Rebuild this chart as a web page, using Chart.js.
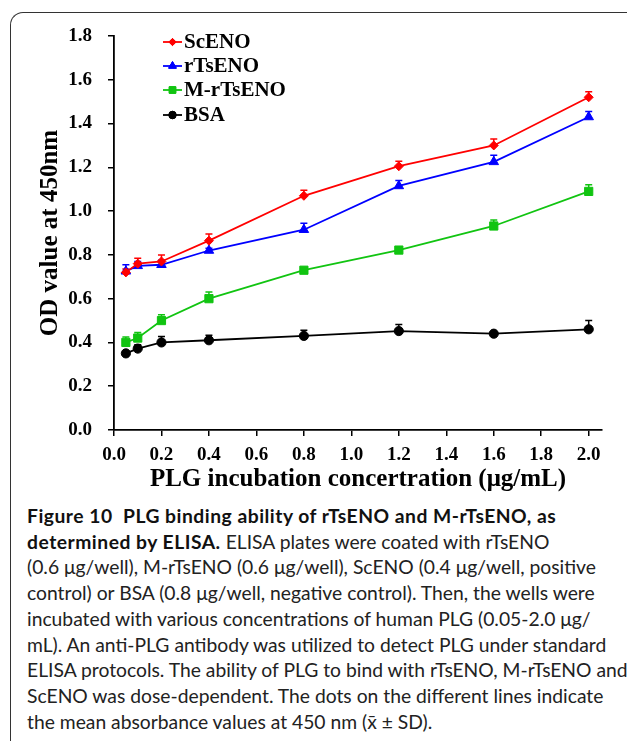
<!DOCTYPE html>
<html>
<head>
<meta charset="utf-8">
<script src="https://cdn.jsdelivr.net/npm/chart.js@4/dist/chart.umd.min.js"></script>
<style>
  html, body { margin: 0; padding: 0; background: #fff; }
  body { width: 627px; height: 741px; position: relative; overflow: hidden; }
  #frame { position: absolute; left: 10px; top: 12px; width: 640px; height: 760px;
           border-left: 1.4px solid #333; border-top: 1.4px solid #333; border-top-left-radius: 13px; }
  #chart { position: absolute; left: 0; top: 0; }
  #caption { position: absolute; left: 27px; top: 503px; width: 600px;
             font-family: Lato, "Open Sans", sans-serif; font-size: 19.3px; line-height: 25.7px;
             color: #222; white-space: nowrap; }
  #caption b { color: #111; letter-spacing: 0.5px; }
</style>
</head>
<body>
<div id="frame"></div>
<canvas id="chart" width="627" height="500"></canvas>
<div id="caption">
<b>Figure 10&nbsp;&nbsp;PLG binding ability of rTsENO and M-rTsENO, as</b><br>
<b>determined by ELISA.</b> ELISA plates were coated with rTsENO<br>
(0.6 μg/well), M-rTsENO (0.6 μg/well), ScENO (0.4 μg/well, positive<br>
control) or BSA (0.8 μg/well, negative control). Then, the wells were<br>
incubated with various concentrations of human PLG (0.05-2.0 μg/<br>
mL). An anti-PLG antibody was utilized to detect PLG under standard<br>
ELISA protocols. The ability of PLG to bind with rTsENO, M-rTsENO and<br>
ScENO was dose-dependent. The dots on the different lines indicate<br>
the mean absorbance values at 450 nm (x̄ ± SD).
</div>
<script>
// ---- data ----
const concentrations = [0.05, 0.1, 0.2, 0.4, 0.8, 1.2, 1.6, 2.0];
const seriesNames = ["ScENO", "rTsENO", "M-rTsENO", "BSA"];
const scENO      = [0.72, 0.76, 0.77, 0.865, 1.07, 1.205, 1.30, 1.52];
const scENOsd    = [0.015, 0.025, 0.03, 0.03, 0.025, 0.023, 0.03, 0.025];
const rTsENO     = [0.725, 0.75, 0.755, 0.82, 0.915, 1.115, 1.225, 1.43];
const rTsENOsd   = [0.03, 0.02, 0.02, 0.01, 0.03, 0.025, 0.03, 0.025];
const mrTsENO    = [0.40, 0.42, 0.50, 0.60, 0.73, 0.822, 0.932, 1.09];
const mrTsENOsd  = [0.025, 0.025, 0.027, 0.03, 0.01, 0.015, 0.027, 0.03];
const bsa        = [0.35, 0.372, 0.40, 0.41, 0.43, 0.452, 0.44, 0.46];
const bsaSD      = [0.01, 0.018, 0.027, 0.023, 0.026, 0.03, 0.01, 0.04];
const yTickLabels = ["0.0","0.2","0.4","0.6","0.8","1.0","1.2","1.4","1.6","1.8"];
const xTickLabels = ["0.0","0.2","0.4","0.6","0.8","1.0","1.2","1.4","1.6","1.8","2.0"];
const yTitle = "OD value at 450nm";
const xTitle = "PLG incubation concertration (μg/mL)";

const serif = "'Liberation Serif', 'Times New Roman', serif";

function pts(vals) { return concentrations.map((x, i) => ({ x: x, y: vals[i] })); }

const styles = [
  { color: '#ff0000', pointStyle: 'rectRot', radius: 4.5 },
  { color: '#0000ff', pointStyle: 'triangle', radius: 5.5 },
  { color: '#11c411', pointStyle: 'rect', radius: 5.8 },
  { color: '#000000', pointStyle: 'circle', radius: 4.6 }
];
const allVals = [scENO, rTsENO, mrTsENO, bsa];
const allSD = [scENOsd, rTsENOsd, mrTsENOsd, bsaSD];

const datasets = allVals.map((v, i) => ({
  label: seriesNames[i],
  data: pts(v),
  sd: allSD[i],
  borderColor: styles[i].color,
  backgroundColor: styles[i].color,
  pointBackgroundColor: styles[i].color,
  pointBorderColor: styles[i].color,
  pointStyle: styles[i].pointStyle,
  pointRadius: styles[i].radius,
  pointBorderWidth: 1,
  borderWidth: 1.8,
  tension: 0,
  fill: false
}));

const errorBars = {
  id: 'errorBars',
  beforeDatasetsDraw(chart) {
    const ctx = chart.ctx;
    const yScale = chart.scales.y;
    chart.data.datasets.forEach((ds, di) => {
      const meta = chart.getDatasetMeta(di);
      ctx.save();
      ctx.strokeStyle = ds.borderColor;
      ctx.lineWidth = 1.5;
      meta.data.forEach((pt, i) => {
        const top = yScale.getPixelForValue(ds.data[i].y + ds.sd[i]);
        ctx.beginPath();
        ctx.moveTo(pt.x, pt.y);
        ctx.lineTo(pt.x, top);
        ctx.moveTo(pt.x - 3.5, top);
        ctx.lineTo(pt.x + 3.5, top);
        ctx.stroke();
      });
      ctx.restore();
    });
  }
};

function drawMarker(ctx, style, r, x, y) {
  if (Chart.helpers && Chart.helpers.drawPoint) {
    Chart.helpers.drawPoint(ctx, { pointStyle: style, radius: r, rotation: 0, borderWidth: 1 }, x, y);
    ctx.fill(); ctx.stroke();
  }
}

const insideLegend = {
  id: 'insideLegend',
  afterDraw(chart) {
    const ctx = chart.ctx;
    const rows = [42, 66, 90, 115];
    chart.data.datasets.forEach((ds, i) => {
      const y = rows[i];
      ctx.save();
      ctx.strokeStyle = ds.borderColor;
      ctx.fillStyle = ds.borderColor;
      ctx.lineWidth = 1.8;
      ctx.beginPath();
      ctx.moveTo(163, y);
      ctx.lineTo(182, y);
      ctx.stroke();
      ctx.lineWidth = 1;
      drawMarker(ctx, ds.pointStyle, ds.pointRadius * 0.8, 172.5, y);
      ctx.fillStyle = '#000';
      ctx.font = "bold 21px " + serif;
      ctx.textBaseline = 'middle';
      ctx.textAlign = 'left';
      ctx.fillText(ds.label, 184, y + 1);
      ctx.restore();
    });
  }
};

new Chart(document.getElementById('chart'), {
  type: 'line',
  data: { datasets: datasets },
  plugins: [errorBars, insideLegend],
  options: {
    responsive: false,
    devicePixelRatio: 1,
    animation: false,
    layout: { padding: { left: 0, top: 36, right: 25, bottom: 0 } },
    plugins: { legend: { display: false }, tooltip: { enabled: false } },
    scales: {
      x: {
        type: 'linear',
        min: 0, max: 2.056,
        afterFit(s) { s.height = 70; },
        ticks: {
          stepSize: 0.2, includeBounds: false, padding: 8, color: '#000',
          font: { family: serif, weight: 'bold', size: 19 },
          callback: (v, i) => xTickLabels[Math.round(v / 0.2)]
        },
        grid: { display: true, drawOnChartArea: false, drawTicks: true, tickLength: 6, color: '#000', lineWidth: 1.5 },
        border: { display: true, color: '#000', width: 1.8 },
        title: { display: true, text: xTitle, color: '#000',
                 font: { family: serif, weight: 'bold', size: 25 }, padding: { top: 0, bottom: 5 } }
      },
      y: {
        type: 'linear',
        min: 0, max: 1.8,
        afterFit(s) { s.width = 114; },
        ticks: {
          stepSize: 0.2, padding: 16, color: '#000',
          font: { family: serif, weight: 'bold', size: 19 },
          callback: (v) => yTickLabels[Math.round(v / 0.2)]
        },
        grid: { display: true, drawOnChartArea: false, drawTicks: true, tickLength: 6, color: '#000', lineWidth: 1.5 },
        border: { display: true, color: '#000', width: 1.8 },
        title: { display: true, text: yTitle, color: '#000',
                 font: { family: serif, weight: 'bold', size: 25 }, padding: { top: 36, bottom: 0 } }
      }
    }
  }
});
</script>
</body>
</html>
